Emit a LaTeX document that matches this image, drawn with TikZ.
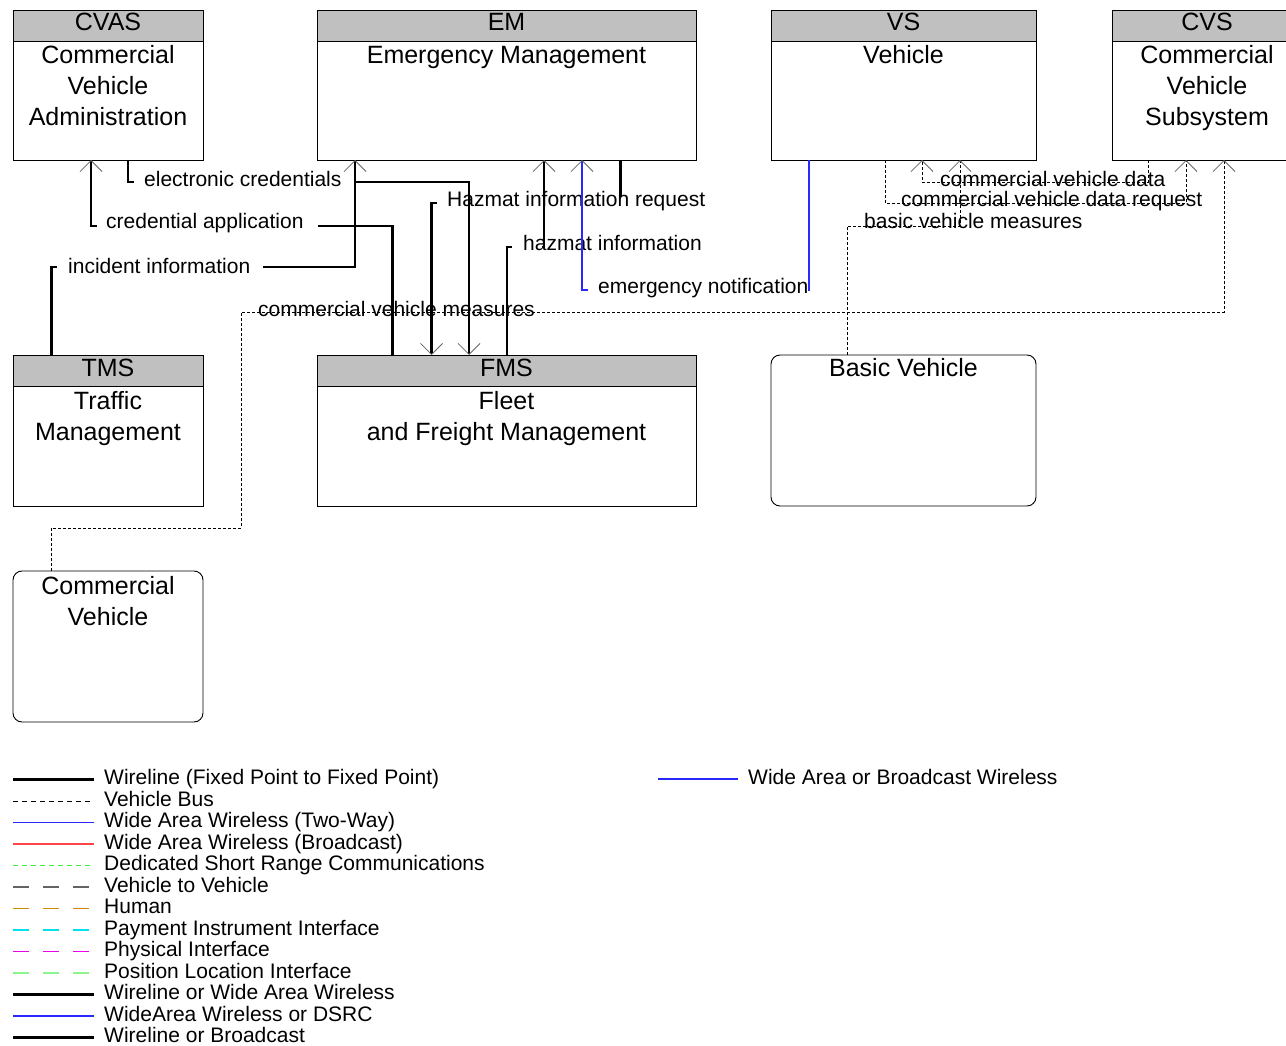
\documentclass[tikz,border=0pt]{standalone}
\usepackage{fontspec}
\setmainfont{Liberation Sans}
\usetikzlibrary{arrows.meta}
\definecolor{hdrgray}{RGB}{192,192,192}
\definecolor{arrgray}{RGB}{100,100,100}
\definecolor{wblue}{RGB}{40,40,255}
\definecolor{wred}{RGB}{255,70,70}
\definecolor{dgreen}{RGB}{60,240,60}
\definecolor{vgray}{RGB}{100,100,100}
\definecolor{human}{RGB}{210,140,0}
\definecolor{pcyan}{RGB}{0,225,235}
\definecolor{pmag}{RGB}{235,0,235}
\definecolor{plgreen}{RGB}{140,245,140}
\begin{document}
\begin{tikzpicture}[x=1pt,y=-1pt,
  box/.style={draw, line width=0.9pt, inner sep=0pt, outer sep=0pt},
  rbox/.style={box, rounded corners=9pt},
  hdr/.style={fill=hdrgray, draw, line width=0.9pt},
  big/.style={font=\fontsize{25}{31}\selectfont, inner sep=0pt, align=center},
  lab/.style={font=\fontsize{21}{25}\selectfont, inner sep=0pt, anchor=base west},
  leg/.style={font=\fontsize{21}{25}\selectfont, inner sep=0pt, anchor=base west},
  wire/.style={line width=2.7pt},
  wless/.style={line width=1.1pt, draw=wblue},
  bus/.style={line width=0.8pt, dash pattern=on 3pt off 2pt},
  tip/.style={-{Straight Barb[length=11pt,width=22pt,line width=0.8pt,color=arrgray]}},
  legthin/.style={line width=1.2pt},
  mask/.style={fill=white},
]
\useasboundingbox (0,0) rectangle (1286,1046);
\clip (0,0) rectangle (1286,1046);

% ---------- boxes ----------
\node[box, minimum width=190pt, minimum height=150pt] (CVAS) at (108,85) {};
\draw[hdr] (CVAS.north west) rectangle ([yshift=-31pt]CVAS.north east);
\node[big, anchor=base] (CVASh) at (108,31) {CVAS};
\node[big, anchor=base] (CVASt) at (108,64) {Commercial};
\node[big, anchor=base] (CVASt2) at (108,95) {Vehicle};
\node[big, anchor=base] (CVASt3) at (108,126) {Administration};

\node[box, minimum width=379pt, minimum height=150pt] (EM) at (506.5,85) {};
\draw[hdr] (EM.north west) rectangle ([yshift=-31pt]EM.north east);
\node[big, anchor=base] (EMh) at (506.5,31) {EM};
\node[big, anchor=base] (EMt) at (506.5,64) {Emergency Management};

\node[box, minimum width=265pt, minimum height=150pt] (VS) at (903.5,85) {};
\draw[hdr] (VS.north west) rectangle ([yshift=-31pt]VS.north east);
\node[big, anchor=base] (VSh) at (903.5,31) {VS};
\node[big, anchor=base] (VSt) at (903.5,64) {Vehicle};

\node[box, minimum width=190pt, minimum height=150pt] (CVS) at (1207,85) {};
\draw[hdr] (CVS.north west) rectangle ([yshift=-31pt]CVS.north east);
\node[big, anchor=base] (CVSh) at (1207,31) {CVS};
\node[big, anchor=base] (CVSt) at (1207,64) {Commercial};
\node[big, anchor=base] (CVSt2) at (1207,95) {Vehicle};
\node[big, anchor=base] (CVSt3) at (1207,126) {Subsystem};

\node[box, minimum width=190pt, minimum height=151pt] (TMS) at (108,430.5) {};
\draw[hdr] (TMS.north west) rectangle ([yshift=-31pt]TMS.north east);
\node[big, anchor=base] (TMSh) at (108,376.5) {TMS};
\node[big, anchor=base] (TMSt) at (108,409.5) {Traffic};
\node[big, anchor=base] (TMSt2) at (108,440.5) {Management};

\node[box, minimum width=379pt, minimum height=151pt] (FMS) at (506.5,430.5) {};
\draw[hdr] (FMS.north west) rectangle ([yshift=-31pt]FMS.north east);
\node[big, anchor=base] (FMSh) at (506.5,376.5) {FMS};
\node[big, anchor=base] (FMSt) at (506.5,409.5) {Fleet};
\node[big, anchor=base] (FMSt2) at (506.5,440.5) {and Freight Management};

\node[rbox, minimum width=265pt, minimum height=151pt] (BV) at (903.5,430.5) {};
\node[big, anchor=base] (BVt) at (903.5,376.5) {Basic Vehicle};

\node[rbox, minimum width=190pt, minimum height=151pt] (CV) at (108,646.5) {};
\node[big, anchor=base] (CVt) at (108,594.5) {Commercial};
\node[big, anchor=base] (CVt2) at (108,625.5) {Vehicle};

% ---------- solid connectors ----------
% incident information
\draw[wire,tip] ([xshift=38.5pt]TMS.north west) -- ++(0,-88) -| ([xshift=38pt]EM.south west);
\fill[mask] (57,261) rectangle (263,273);
\node[lab] (ii) at (68,273) {incident information};

% credential application
\draw[wire,tip] ([xshift=75.5pt]FMS.north west) -- ++(0,-129) -| ([xshift=78pt]CVAS.south west);
\fill[mask] (97,220) rectangle (318,232);
\node[lab] (ca) at (106,229) {credential application};

% Hazmat information request
\draw[wire,tip] ([xshift=303.5pt]EM.south west) -- ++(0,43) -| ([xshift=114.5pt]FMS.north west);
\fill[mask] (437,197) rectangle (623.5,209);
\node[lab] (hir) at (447,207) {Hazmat information request};

% electronic credentials
\draw[wire,tip] ([xshift=115pt]CVAS.south west) -- ++(0,22) -| ([xshift=152pt]FMS.north west);
\fill[mask] (134,176) rectangle (353.5,188);
\node[lab] (ec) at (144,186) {electronic credentials};

% hazmat information
\draw[wire,tip] ([xshift=190pt]FMS.north west) -- ++(0,-108) -| ([xshift=227pt]EM.south west);
\fill[mask] (512,241) rectangle (541.5,253);
\node[lab] (hi) at (523,250) {hazmat information};

% emergency notification
\draw[wless,tip] ([xshift=38pt]VS.south west) -- ++(0,130) -| ([xshift=265pt]EM.south west);
\fill[mask] (588,285) rectangle (807.8,295);
\node[lab] (en) at (598,293) {emergency notification};

% ---------- vehicle bus connectors ----------
\draw[bus,tip] ([xshift=38pt]CV.north west) -- ++(0,-43) -- ++(190,0) -- ++(0,-216) -| ([xshift=112pt]CVS.south west);
\node[lab] (cvm) at (258,316) {commercial vehicle measures};

\draw[bus,tip] ([xshift=36pt]CVS.south west) -- ++(0,22) -| ([xshift=151pt]VS.south west);
\node[lab] (cvd) at (940,186) {commercial vehicle data};

\draw[bus,tip] ([xshift=114pt]VS.south west) -- ++(0,43) -| ([xshift=74pt]CVS.south west);
\node[lab] (cvdr) at (901,207) {commercial vehicle data request};

\draw[bus,tip] ([xshift=76pt]BV.north west) -- ++(0,-129) -| ([xshift=189pt]VS.south west);
\node[lab] (bvm) at (864,228) {basic vehicle measures};

% ---------- legend ----------
\draw[line width=2.7pt] (13,779.5) -- (94,779.5);
\node[leg] (l1) at (104,784.5) {Wireline (Fixed Point to Fixed Point)};
\draw[line width=0.8pt, dash pattern=on 5pt off 4pt] (13,801) -- (90,801);
\node[leg] (l2) at (104,806) {Vehicle Bus};
\draw[legthin, wblue] (13,822.5) -- (94,822.5);
\node[leg] (l3) at (104,827.5) {Wide Area Wireless (Two-Way)};
\draw[legthin, wred] (13,844) -- (94,844);
\node[leg] (l4) at (104,849) {Wide Area Wireless (Broadcast)};
\draw[legthin, dgreen, dash pattern=on 5pt off 4pt] (13,865.5) -- (90,865.5);
\node[leg] (l5) at (104,870.5) {Dedicated Short Range Communications};
\draw[legthin, vgray, dash pattern=on 16pt off 14pt] (13,887) -- (90,887);
\node[leg] (l6) at (104,892) {Vehicle to Vehicle};
\draw[legthin, human, dash pattern=on 16pt off 14pt] (13,908.5) -- (90,908.5);
\node[leg] (l7) at (104,913.5) {Human};
\draw[legthin, pcyan, dash pattern=on 16pt off 14pt] (13,930) -- (90,930);
\node[leg] (l8) at (104,935) {Payment Instrument Interface};
\draw[legthin, pmag, dash pattern=on 16pt off 14pt] (13,951.5) -- (90,951.5);
\node[leg] (l9) at (104,956.5) {Physical Interface};
\draw[legthin, plgreen, dash pattern=on 16pt off 14pt] (13,973) -- (90,973);
\node[leg] (l10) at (104,978) {Position Location Interface};
\draw[line width=2.7pt] (13,994.5) -- (94,994.5);
\node[leg] (l11) at (104,999.5) {Wireline or Wide Area Wireless};
\draw[legthin, wblue] (13,1016) -- (94,1016);
\node[leg] (l12) at (104,1021) {WideArea Wireless or DSRC};
\draw[line width=2.7pt] (13,1037.5) -- (94,1037.5);
\node[leg] (l13) at (104,1042.5) {Wireline or Broadcast};

\draw[legthin, wblue] (658,779) -- (738,779);
\node[leg] (r1) at (748,784) {Wide Area or Broadcast Wireless};
\end{tikzpicture}
\end{document}
